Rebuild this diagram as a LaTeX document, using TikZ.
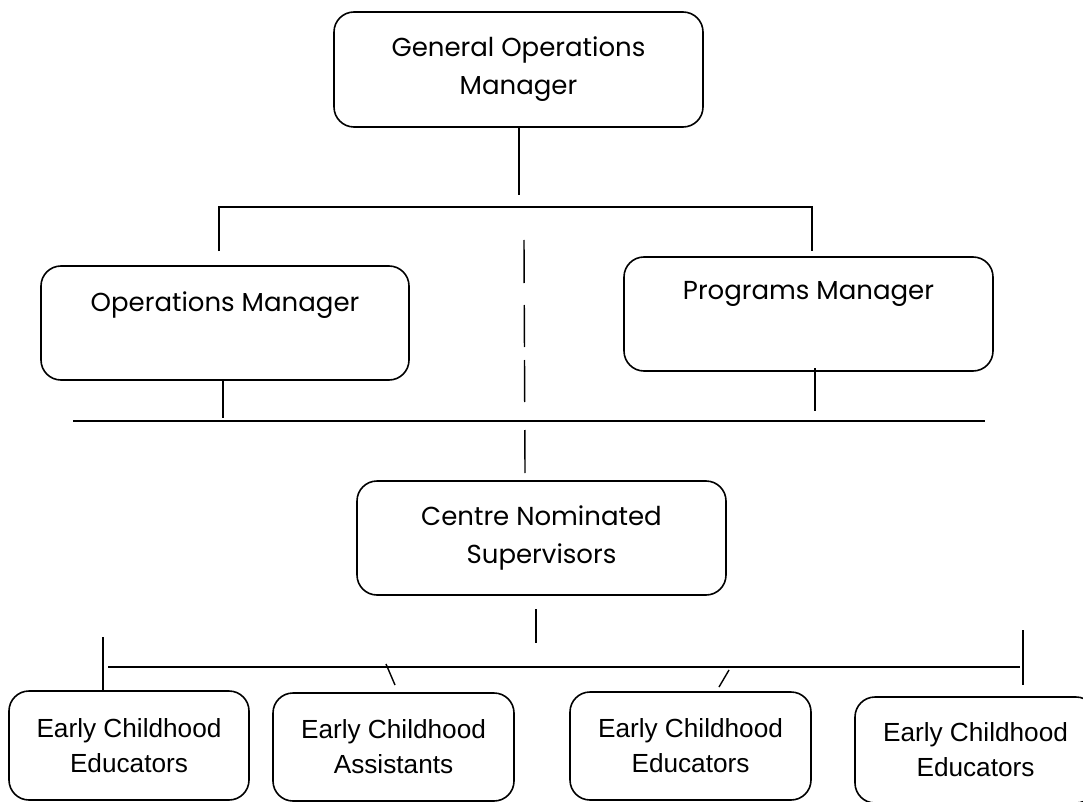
\documentclass[tikz,border=0pt]{standalone}
\usepackage{fontspec}
\setmainfont{Poppins}
\newfontfamily\arialfont{Liberation Sans}
\begin{document}
\begin{tikzpicture}[x=1pt,y=-1pt,
  box/.style={draw, line width=1.6pt, rounded corners=20pt, inner sep=0pt, align=center},
  topfont/.style={font=\fontsize{26}{38}\selectfont},
  botfont/.style={font=\arialfont\fontsize{26.2}{35}\selectfont},
  conn/.style={line width=1.4pt}]
\useasboundingbox (0,0) rectangle (1083,802);

% boxes
\node[box, topfont, minimum width=369pt, minimum height=115pt] (gom) at (518.5,69.5) {General Operations\\Manager};
\node[box, topfont, minimum width=368pt, minimum height=114pt, text height=20pt, text depth=44pt] (ops) at (225,323) {Operations Manager};
\node[box, topfont, minimum width=369pt, minimum height=114pt, text height=20pt, text depth=50pt] (prog) at (808.5,314) {Programs Manager};
\node[box, topfont, minimum width=369pt, minimum height=114pt] (cns) at (541.5,538) {Centre Nominated\\Supervisors};
\node[box, botfont, minimum width=240pt, minimum height=109pt] (b1) at (129,745.5) {Early Childhood\\Educators};
\node[box, botfont, minimum width=241pt, minimum height=108pt] (b2) at (393.5,747) {Early Childhood\\Assistants};
\node[box, botfont, minimum width=241pt, minimum height=108pt] (b3) at (690.5,746) {Early Childhood\\Educators};
\node[box, botfont, minimum width=241pt, minimum height=106pt] (b4) at (975.5,750) {Early Childhood\\Educators};

% free ends
\coordinate (g1) at (519,195);
\coordinate (tl) at (219,251);
\coordinate (tlc) at (219,207);
\coordinate (trc) at (812,207);
\coordinate (tr) at (812,251);
\coordinate (d1) at (524,240);
\coordinate (d2) at (525,473);
\coordinate (o2) at (223,418);
\coordinate (hl) at (73,421);
\coordinate (hr) at (985,421);
\coordinate (p1) at (815,368);
\coordinate (p2) at (815,411);
\coordinate (c1) at (536,609);
\coordinate (c2) at (536,643);
\coordinate (bl) at (108,667);
\coordinate (br) at (1020,667);
\coordinate (v1a) at (103,637);
\coordinate (v4a) at (1023,630);
\coordinate (v4b) at (1023,685);
\coordinate (s2a) at (386,664);
\coordinate (s2b) at (395,685);
\coordinate (s3a) at (729,670);
\coordinate (s3b) at (719,687);

% connectors
\draw[conn] (gom.south -| g1) -- (g1);
\draw[conn] (tl) -- (tlc) -- (trc) -- (tr);
\draw[conn, dash pattern=on 43pt off 22pt on 42pt off 13pt on 42pt off 28pt on 43pt off 10pt] (d1) -- (d2);
\draw[conn] (ops.south -| o2) -- (o2);
\draw[conn] (hl) -- (hr);
\draw[conn] (p1) -- (p2);
\draw[conn] (c1) -- (c2);
\draw[conn] (bl) -- (br);
\draw[conn] (v1a) -- (b1.north -| v1a);
\draw[conn] (v4a) -- (v4b);
\draw[conn] (s2a) -- (s2b);
\draw[conn] (s3a) -- (s3b);
\end{tikzpicture}
\end{document}
